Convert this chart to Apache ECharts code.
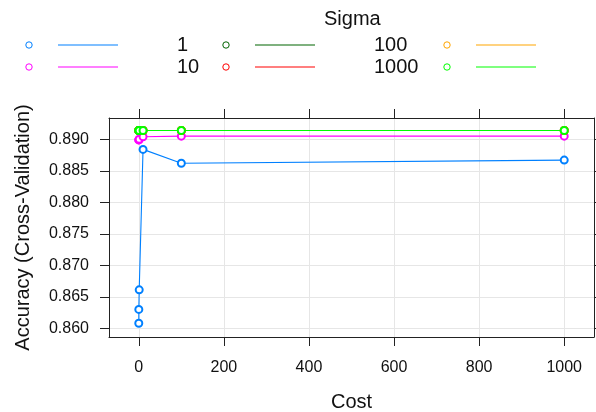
<!DOCTYPE html>
<html>
<head>
<meta charset="utf-8">
<script src="https://cdn.jsdelivr.net/npm/echarts@6/dist/echarts.min.js"></script>
<style>html,body{margin:0;padding:0;background:#fff;}#c{width:596px;height:412px;}</style>
</head>
<body>
<div id="c"></div>
<script>
// ---- data ----
var cost = [0.01, 0.1, 1, 10, 100, 1000];
var sigma1 = [0.8608, 0.8630, 0.8661, 0.8884, 0.8862, 0.8867];
var sigma10 = [0.8899, 0.8899, 0.8900, 0.8904, 0.8905, 0.8905];
var sigma100 = [0.8914, 0.8914, 0.8914, 0.8914, 0.8914, 0.8914];
var sigma1000 = [0.8914, 0.8914, 0.8914, 0.8914, 0.8914, 0.8914];
var sigma5 = [0.8914, 0.8914, 0.8914, 0.8914, 0.8914, 0.8914];
var sigma6 = [0.8914, 0.8914, 0.8914, 0.8914, 0.8914, 0.8914];
var xTicks = [0, 200, 400, 600, 800, 1000];
var yTicks = [0.860, 0.865, 0.870, 0.875, 0.880, 0.885, 0.890];
var legendTitle = 'Sigma';
var legendLabels = ['1', '10', '100', '1000'];
var colors = ['#0080ff', '#ff00ff', '#006400', '#ff0000', '#ffa500', '#00ff00'];
var seriesValues = [sigma1, sigma10, sigma100, sigma1000, sigma5, sigma6];

var chart = echarts.init(document.getElementById('c'));
var FONT = 'Liberation Sans, Arial, sans-serif';

function pairs(vals) { return cost.map(function (c, i) { return [c, vals[i]]; }); }

var series = seriesValues.map(function (vals, i) {
  return {
    type: 'line', xAxisIndex: 0, yAxisIndex: 0,
    data: pairs(vals),
    symbol: 'emptyCircle', symbolSize: 7,
    showAllSymbol: true,
    lineStyle: { color: colors[i], width: 1.1 },
    itemStyle: { color: colors[i], borderColor: colors[i], borderWidth: 1 },
    emphasis: { disabled: true },
    clip: false, animation: false, z: 2 + i
  };
});

// legend (key) drawn as graphics: 2 rows x 3 columns of symbol + line, labels in between
var graphics = [];
graphics.push({ type: 'text', left: 324, top: 9, style: { text: legendTitle, font: '20px ' + FONT, fill: '#111' } });
var colX = [29, 226, 447];
var rowY = [45, 67];
for (var k = 0; k < 6; k++) {
  var col = Math.floor(k / 2), row = k % 2;
  var cx = colX[col], cy = rowY[row];
  graphics.push({ type: 'circle', shape: { cx: cx, cy: cy, r: 3.2 }, style: { fill: 'none', stroke: colors[k], lineWidth: 1 } });
  graphics.push({ type: 'line', shape: { x1: cx + 29, y1: cy, x2: cx + 89, y2: cy }, style: { stroke: colors[k], lineWidth: 1.2 } });
}
var labX = [177, 374];
for (var j = 0; j < legendLabels.length; j++) {
  var c2 = Math.floor(j / 2), r2 = j % 2;
  graphics.push({ type: 'text', x: labX[c2], y: rowY[r2], style: { text: legendLabels[j], font: '20px ' + FONT, fill: '#111', verticalAlign: 'middle', align: 'left' } });
}

var axisLineStyle = { color: '#222', width: 1 };
chart.setOption({
  animation: false,
  backgroundColor: '#fff',
  grid: { left: 109, top: 118, width: 485, height: 219, outerBoundsMode: 'none', containLabel: false },
  xAxis: [{
    type: 'value', position: 'bottom', min: -70, max: 1070,
    name: 'Cost', nameLocation: 'middle', nameGap: 55,
    nameTextStyle: { fontFamily: FONT, fontSize: 20, color: '#111' },
    axisLine: { show: true, onZero: false, lineStyle: axisLineStyle },
    axisTick: { show: true, customValues: xTicks, length: 9, lineStyle: axisLineStyle },
    axisLabel: { customValues: xTicks, fontFamily: FONT, fontSize: 16, color: '#111', margin: 23,
      formatter: function (v) { return String(v); } },
    splitLine: { show: true, customValues: xTicks, lineStyle: { color: '#e6e6e6', width: 1 } }
  }, {
    type: 'value', position: 'top', min: -70, max: 1070,
    axisLine: { show: true, onZero: false, lineStyle: axisLineStyle },
    axisTick: { show: true, customValues: xTicks, length: 9, lineStyle: axisLineStyle },
    axisLabel: { show: false },
    splitLine: { show: false }
  }],
  yAxis: [{
    type: 'value', position: 'left', min: 0.85862, max: 0.89338,
    name: 'Accuracy (Cross-Validation)', nameLocation: 'middle', nameGap: 76,
    nameTextStyle: { fontFamily: FONT, fontSize: 20, color: '#111' },
    axisLine: { show: true, onZero: false, lineStyle: axisLineStyle },
    axisTick: { show: true, customValues: yTicks, length: 9, lineStyle: axisLineStyle },
    axisLabel: { customValues: yTicks, fontFamily: FONT, fontSize: 16, color: '#111', margin: 20,
      formatter: function (v) { return v.toFixed(3); } },
    splitLine: { show: true, customValues: yTicks, lineStyle: { color: '#e6e6e6', width: 1 } }
  }, {
    type: 'value', position: 'right', min: 0.85862, max: 0.89338,
    axisLine: { show: true, onZero: false, lineStyle: axisLineStyle },
    axisTick: { show: true, customValues: yTicks, length: 9, lineStyle: axisLineStyle },
    axisLabel: { show: false },
    splitLine: { show: false }
  }],
  graphic: graphics,
  series: series
});
</script>
</body>
</html>
